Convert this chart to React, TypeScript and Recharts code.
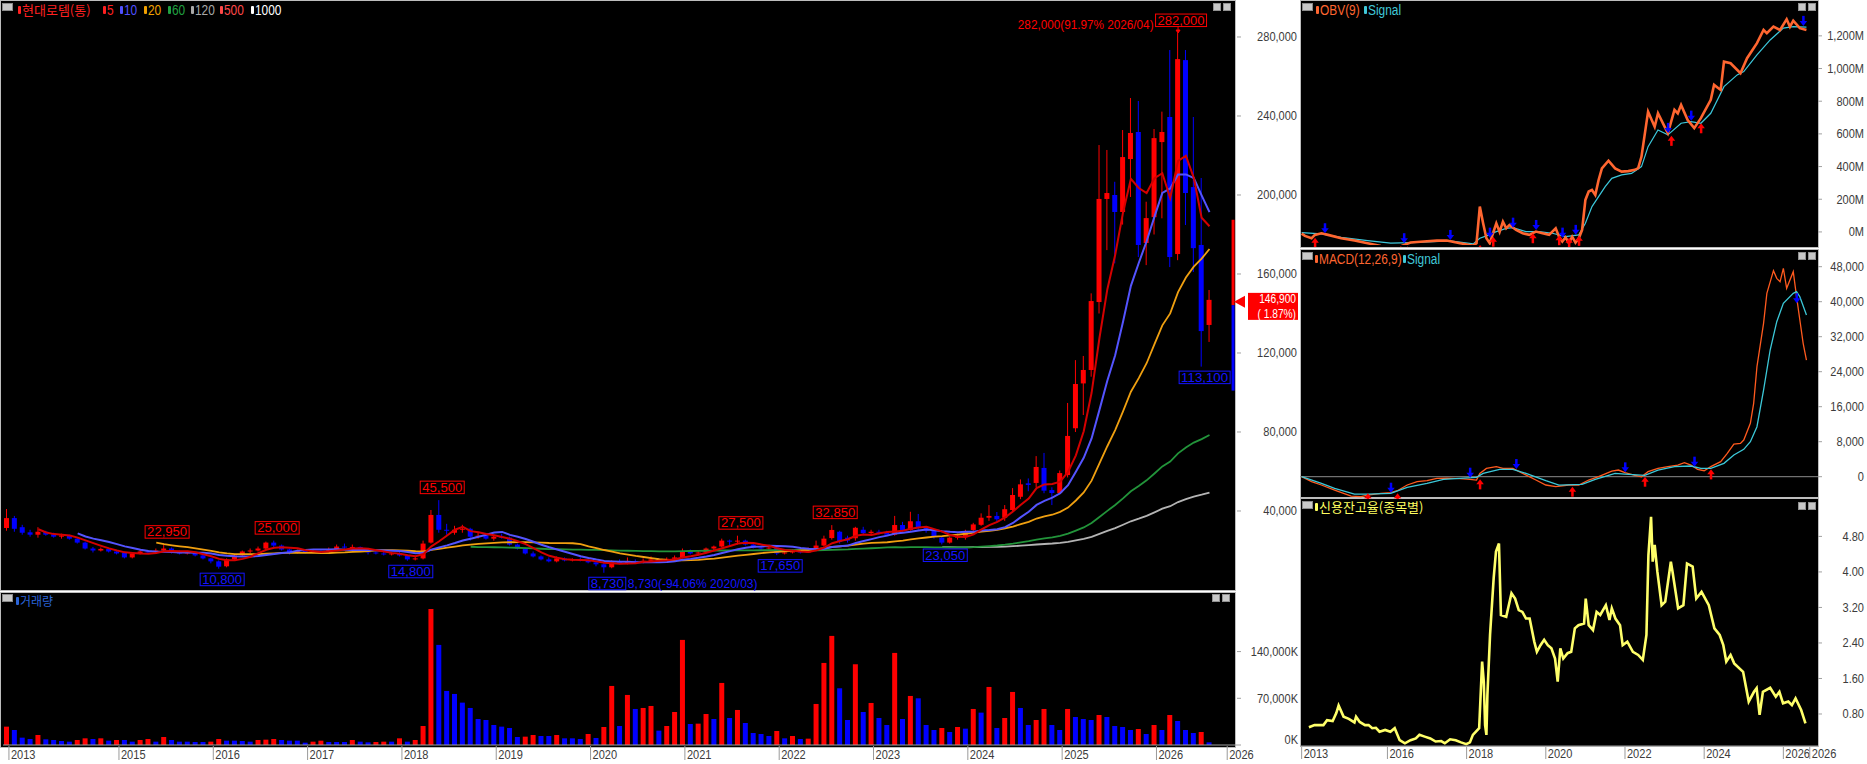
import React from "react";
import {
  ComposedChart,
  LineChart,
  Bar,
  Line,
  Cell,
  XAxis,
  YAxis,
  ReferenceDot,
  ReferenceLine,
} from "recharts";

const SANS = "'Liberation Sans',Arial,sans-serif";
const CJK = "'Noto Sans CJK KR','Noto Sans',sans-serif";
const SQUEEZE = 0.85;
const RED = "#ff0000";
const BLUE = "#0000ff";
const AXIS_TEXT = "#3c3c3c";

// monthly candles, Nov 2013 .. Aug 2026
const START_YEAR = 2013;
const START_MONTH = 11;
const PAD_MONTHS = 3;

const opens = [
  31400, 36400, 31800, 29200, 28000, 29500, 28200, 27000, 27500, 26000,
  24000, 21000, 20000, 20800, 19500, 19000, 16500, 18500, 19500, 19000,
  20000, 21000, 19500, 18500, 19000, 17500, 16000, 14500, 12000, 15500,
  17500, 19500, 20000, 21000, 24000, 22500, 20500, 19000, 19800, 19000,
  19500, 19200, 20500, 22000, 21500, 21800, 20000, 19000, 18500, 18000,
  18500, 17500, 15500, 16000, 24000, 38000, 30500, 29000, 30500, 31000,
  27000, 27500, 26000, 27000, 26500, 23000, 21000, 18500, 17000, 15500,
  14500, 16000, 15000, 15500, 15000, 14000, 13000, 11500, 14500, 13500,
  14500, 14000, 14800, 15500, 15000, 15800, 16500, 19500, 18500, 19000,
  21000, 22000, 25000, 24500, 25000, 23000, 21500, 21000, 21500, 18500,
  19000, 19500, 19000, 20500, 22500, 26300, 29500, 26500, 26200, 30500,
  28800, 29500, 29000, 28000, 32900, 30400, 34800, 31500, 30000, 26500,
  24000, 26500, 27000, 30400, 33000, 36600, 37500, 36600, 40500, 47200,
  54000, 54200, 61800, 50600, 49100, 58200, 81900, 104600, 111400, 145800,
  198000, 200000, 191400, 218200, 231900, 175700, 188800, 226800, 239500, 170100,
  268300, 204000, 174700, 134200,
];
const highs = [
  41000, 37500, 33000, 30500, 31800, 30000, 29000, 28500, 28000, 26500,
  24500, 21800, 21500, 21000, 20000, 19500, 19000, 20500, 20000, 21000,
  22950, 21500, 20000, 19800, 19200, 17800, 16300, 15000, 16000, 18000,
  20000, 21000, 22000, 24500, 25000, 23000, 21000, 20500, 20500, 20300,
  20000, 21500, 23000, 23500, 23000, 22000, 20500, 19500, 19500, 19000,
  19500, 17800, 17000, 25000, 40500, 45500, 33500, 32500, 33000, 31500,
  29000, 28500, 28000, 28500, 27000, 23500, 21500, 19500, 17500, 16500,
  17000, 16500, 16000, 16500, 15500, 14500, 13500, 15000, 15500, 16500,
  15500, 16000, 17000, 16000, 16500, 17500, 21000, 20500, 19800, 21500,
  22500, 26000, 25500, 27500, 25500, 23500, 22500, 22000, 22000, 20000,
  20500, 20500, 21500, 25000, 27500, 32850, 30000, 27500, 32000, 32000,
  30500, 30500, 30000, 37500, 34500, 39600, 38500, 32000, 30500, 27000,
  27000, 28500, 30500, 34000, 38800, 43000, 39500, 43000, 51600, 56000,
  56500, 67800, 69400, 52000, 60500, 94700, 116400, 118500, 150200, 225300,
  222800, 206700, 232900, 249100, 247600, 196600, 233400, 242200, 273400, 282000,
  273400, 239500, 208600, 151900,
];
const lows = [
  30000, 29500, 28000, 27000, 26500, 27500, 26500, 26000, 25500, 23500,
  20500, 19000, 19500, 19000, 18000, 16000, 16000, 18000, 18500, 18500,
  19500, 18500, 18000, 18000, 17000, 15500, 13500, 10800, 11500, 15000,
  17000, 18500, 19500, 20500, 21500, 20000, 18000, 18500, 18500, 18500,
  18500, 19000, 20000, 21000, 21000, 19500, 18000, 18000, 17500, 17500,
  17000, 14800, 15000, 15500, 23500, 29000, 28000, 28000, 29000, 25000,
  26000, 25500, 25000, 26000, 22500, 20500, 18000, 16500, 15000, 14000,
  14000, 14500, 14500, 14500, 13500, 12000, 8730, 11000, 13000, 13000,
  13500, 13500, 14500, 14500, 14500, 15500, 16000, 18000, 17500, 18500,
  20000, 21500, 22500, 23000, 22500, 21000, 20000, 20500, 17650, 18000,
  18500, 18500, 18800, 20000, 22000, 25500, 23500, 24000, 25000, 28000,
  28000, 28000, 27500, 27500, 29500, 30000, 30500, 29000, 26000, 23050,
  23500, 25500, 25500, 29000, 32500, 35000, 34500, 35000, 40000, 46000,
  50000, 52000, 49000, 43000, 48500, 57000, 80000, 88600, 108000, 140000,
  172100, 165400, 185000, 199000, 168600, 164500, 180000, 188200, 163500, 167000,
  184800, 161000, 113100, 125600,
];
const closes = [
  36400, 31000, 29000, 28000, 29500, 28000, 27000, 27600, 26000, 24000,
  21000, 20000, 20800, 19500, 18500, 16500, 18500, 19500, 19000, 20000,
  21000, 19500, 18500, 19000, 17500, 16000, 14500, 11800, 15500, 17500,
  19500, 20000, 21000, 24000, 22500, 20500, 19000, 19800, 19000, 19500,
  19200, 20500, 22000, 21500, 21800, 20000, 19000, 18500, 18000, 18500,
  17500, 15500, 16000, 23500, 38000, 30500, 30000, 30500, 31000, 27000,
  27500, 26000, 27000, 26500, 23000, 21000, 18500, 17000, 15500, 14500,
  16000, 15000, 15500, 15000, 14000, 13000, 11500, 14500, 13500, 14500,
  14000, 14800, 15500, 15000, 15800, 16500, 19500, 18500, 19000, 21000,
  22000, 25000, 24500, 25000, 23000, 21500, 21000, 21500, 18500, 19000,
  19500, 19000, 20500, 22500, 26000, 30400, 24500, 25000, 31500, 28800,
  29500, 29000, 28000, 32900, 30400, 34800, 31900, 30000, 27000, 24000,
  26500, 27500, 29500, 33200, 36600, 37500, 35800, 40900, 48100, 53500,
  53200, 62300, 50300, 49100, 59200, 78000, 104300, 111400, 146300, 198000,
  201000, 191400, 219200, 231400, 174700, 188300, 228800, 231900, 168600, 268800,
  201000, 173100, 131100, 146900,
];
// volume in thousand shares
const volumes = [
  27500, 22500, 11000, 9000, 15000, 8500, 7500, 6000, 5000, 7500,
  10000, 9000, 10000, 6500, 7500, 7500, 5000, 7500, 9000, 5000,
  12000, 7500, 5000, 5000, 4500, 4500, 5000, 9000, 6500, 6500,
  6000, 5000, 7500, 8000, 9000, 7500, 6500, 6500, 3500, 5000,
  6500, 4500, 4500, 4500, 7500, 5000, 4000, 4500, 5000, 5000,
  10000, 5000, 7500, 28500, 204000, 150000, 81000, 76500, 63500, 55500,
  39000, 37500, 30000, 27500, 25500, 12000, 12500, 15000, 13500, 13500,
  15000, 10000, 10000, 9000, 16500, 10500, 27000, 88500, 28500, 75000,
  54000, 55500, 58500, 21500, 28500, 49500, 157500, 31500, 32000, 46500,
  39000, 93000, 40500, 52500, 33000, 18000, 16500, 13500, 21000, 10000,
  13500, 9000, 9500, 61500, 123000, 163500, 85000, 37500, 121000, 49500,
  63000, 40500, 30000, 138000, 39000, 73500, 70000, 30000, 22500, 25500,
  19500, 27000, 24500, 54000, 48500, 87000, 25500, 40500, 79500, 55500,
  30000, 37500, 54000, 30000, 22500, 54000, 42000, 39000, 37500, 45000,
  42000, 28500, 27000, 22500, 24000, 16500, 30000, 22500, 45000, 36000,
  22500, 18000, 19500, 4000,
];

const prevDayClose = 144200;
const peakIdx = [20, 34, 55, 93, 105, 149];
const troughIdx = [27, 51, 76, 98, 119, 152];
const priceTicks = [40000, 80000, 120000, 160000, 200000, 240000, 280000];
const volumeTicks = [0, 70000, 140000];
const yearTickKeys = [
  "2013-11", "2015-01", "2016-01", "2017-01", "2018-01", "2019-01", "2020-01",
  "2021-01", "2022-01", "2023-01", "2024-01", "2025-01", "2026-01", "2026-10",
];

// right panels: [month index, value]
const obvLine = [
  [0, -10], [1, -24], [3, -39], [4, -18], [6, -8], [8, -18], [12, -39], [16, -53],
  [20, -69], [24, -86], [27, -92], [30, -88], [33, -65], [37, -59], [41, -53], [44, -53],
  [48, -69], [52, -84], [53, -69], [54, 155], [55, 53], [56, -39], [57, -69], [58, -8],
  [59, 53], [60, 0], [61, 63], [62, 22], [63, 43], [65, 12], [67, -8], [69, -18],
  [71, 2], [73, -8], [75, -18], [77, 22], [78, -29], [79, -59], [80, -33], [81, -69],
  [82, -29], [83, -65], [84, -39], [85, 12], [86, 196], [87, 247], [88, 257], [89, 226],
  [90, 318], [91, 389], [93, 436], [95, 389], [97, 369], [99, 372], [101, 380], [102, 390],
  [103, 461], [105, 736], [107, 644], [108, 726], [110, 644], [111, 604], [113, 747],
  [114, 726], [115, 777], [117, 685], [119, 635], [121, 696], [124, 808], [125, 900],
  [127, 869], [128, 1042], [130, 1032], [133, 971], [135, 1063], [138, 1155], [140, 1236],
  [141, 1216], [143, 1256], [145, 1236], [147, 1302], [148, 1256], [149, 1293],
  [151, 1247], [153, 1236],
];
const obvSignal = [
  [0, -4], [6, -12], [12, -33], [20, -53], [27, -69], [33, -65], [40, -59], [45, -55],
  [52, -73], [54, -39], [56, -24], [59, 2], [62, 22], [64, 26], [68, 2], [72, 2],
  [76, -8], [80, -29], [84, -18], [86, 53], [88, 155], [90, 216], [92, 277], [94, 328],
  [97, 349], [100, 358], [103, 400], [105, 522], [108, 624], [111, 594], [115, 665],
  [118, 675], [121, 665], [124, 726], [128, 889], [132, 961], [134, 981], [138, 1083],
  [142, 1175], [146, 1247], [149, 1256], [153, 1253],
];
const obvBuys = [[4, -35], [30, -86], [32, -88], [54, -80], [58, -29], [70, -8], [78, -20], [81, -35], [84, -24], [112, 588], [121, 665]];
const obvSells = [[7, -8], [31, -69], [45, -49], [57, -35], [64, 26], [71, 12], [79, -35], [83, -18], [111, 606], [118, 681], [152, 1261]];

const macdLine = [
  [0, 0], [3, -1140], [6, -1900], [10, -3050], [15, -4420], [18, -4570], [20, -4190],
  [24, -3810], [27, -3660], [29, -3200], [32, -1900], [35, -1140], [38, -914], [41, -381],
  [44, -305], [48, -457], [51, -610], [53, -762], [54, 762], [56, 1905], [59, 2286],
  [61, 1905], [64, 1905], [67, 762], [71, -762], [74, -1900], [77, -2286], [81, -1900],
  [84, -1900], [87, -762], [90, 0], [94, 1295], [96, 1524], [98, 914], [101, 305],
  [103, 0], [105, 1143], [108, 1905], [111, 2286], [114, 2667], [116, 3200], [118, 2667],
  [120, 1676], [122, 1372], [124, 2286], [127, 3429], [129, 5334], [131, 7468],
  [133, 7620], [134, 8382], [136, 12192], [137, 16764], [138, 25146], [140, 35052],
  [141, 41910], [143, 47092], [144, 45339], [145, 44577], [146, 47625], [147, 43053],
  [149, 46863], [150, 41148], [151, 35814], [152, 30480], [153, 26670],
];
const macdSignal = [
  [0, 0], [6, -1524], [10, -2667], [16, -3962], [20, -3962], [27, -3810], [32, -2438],
  [38, -1524], [43, -610], [49, -305], [53, -152], [55, 762], [60, 1676], [64, 1676],
  [68, 762], [74, -914], [78, -1905], [85, -1753], [89, -610], [95, 762], [98, 610],
  [104, 305], [108, 1524], [113, 2286], [118, 2438], [121, 1905], [124, 1905],
  [128, 3048], [131, 4953], [134, 6248], [136, 8001], [138, 11430], [140, 19812],
  [142, 28956], [144, 35433], [146, 39624], [149, 41910], [150, 42291], [151, 41148],
  [153, 36957],
];
const macdBuys = [[20, -3810], [29, -3810], [54, -610], [82, -2286], [104, 0], [124, 1676]];
const macdSells = [[27, -3658], [51, -229], [65, 1753], [98, 991], [119, 2286], [150, 39624]];

const creditRatio = [
  [2.2, 0.5], [3.9, 0.55], [6.6, 0.55], [7.7, 0.66], [9.4, 0.64], [10.5, 0.82], [11.2, 0.99],
  [12.7, 0.74], [14.3, 0.69], [16, 0.61], [16.5, 0.74], [17.6, 0.62], [19.2, 0.55],
  [20.3, 0.55], [21.4, 0.48], [22.5, 0.49], [23.6, 0.4], [25.3, 0.44], [26.9, 0.4],
  [28.2, 0.48], [29.7, 0.21], [31.3, 0.14], [33, 0.21], [34.6, 0.25], [35.7, 0.33],
  [37.3, 0.29], [39, 0.25], [40.6, 0.18], [42.3, 0.19], [43.4, 0.14], [45, 0.23],
  [46.7, 0.21], [48.3, 0.16], [49.9, 0.12], [51, 0.16], [51.9, 0.33], [53.8, 0.48],
  [54.7, 1.98], [55.2, 1.53], [55.6, 0.55], [56, 0.33], [56.3, 1.23], [57.1, 2.58],
  [58.2, 3.86], [58.9, 4.46], [59.8, 4.64], [60.4, 3.03], [62, 2.99], [63.6, 3.52],
  [64.7, 3.4], [65.8, 3.14], [66.9, 3.1], [68, 2.95], [69.1, 2.95], [70.5, 2.43],
  [71.3, 2.2], [72.4, 2.35], [73.5, 2.47], [74.6, 2.35], [75.7, 2.28], [76.8, 2.05],
  [77.6, 1.53], [78.4, 2.28], [79.3, 2.05], [80.6, 2.17], [81.7, 2.2], [82.8, 2.73],
  [83.9, 2.8], [85.6, 2.84], [86.1, 3.4], [87, 2.8], [88.3, 2.69], [89.4, 3.1],
  [90.5, 3.03], [92.2, 3.25], [93.3, 2.92], [94, 3.18], [95.1, 2.95], [96.5, 2.8],
  [97.3, 2.35], [98.7, 2.43], [100.4, 2.2], [102, 2.13], [103.4, 2.02], [104.5, 2.58],
  [105.1, 4.38], [105.9, 5.24], [106.4, 4.23], [107, 4.61], [107.8, 4.01], [109.1, 3.25],
  [110.2, 3.33], [111.9, 4.23], [112.4, 4.01], [114.1, 3.18], [115.7, 3.25], [116.8, 4.19],
  [118.5, 4.12], [119.6, 3.4], [121.2, 3.55], [123.4, 3.25], [125.1, 2.73], [126.7, 2.58],
  [127.8, 2.35], [128.7, 1.98], [130, 2.13], [131.1, 1.94], [133.8, 1.75], [135.5, 1.08],
  [137.1, 1.3], [137.9, 1.38], [138.8, 0.78], [139.8, 1.3], [142, 1.39], [143.7, 1.19],
  [144.8, 1.3], [145.9, 1.04], [147.5, 1.08], [148.6, 1.0], [149.7, 1.15], [151.4, 0.89],
  [152.7, 0.59],
];
const sideYearTicks = [0, 26, 50, 74, 98, 122, 146, 154];

// ---- derived tables ----
const months: string[] = [];
for (let i = 0; i < closes.length + PAD_MONTHS; i++) {
  const mm = START_MONTH - 1 + i;
  months.push(`${START_YEAR + Math.floor(mm / 12)}-${String((mm % 12) + 1).padStart(2, "0")}`);
}
const sma = (n: number) =>
  closes.map((_, i) =>
    i < n - 1 ? null : closes.slice(i - n + 1, i + 1).reduce((a, b) => a + b, 0) / n
  );
const ma5 = sma(5);
const ma10 = sma(10);
const ma20 = sma(20);
const ma60 = sma(60);
const ma120 = sma(120);

const rows = months.map((m, i) =>
  i < closes.length
    ? {
        m,
        range: [lows[i], highs[i]],
        open: opens[i],
        high: highs[i],
        low: lows[i],
        close: closes[i],
        vol: volumes[i],
        ma5: ma5[i],
        ma10: ma10[i],
        ma20: ma20[i],
        ma60: ma60[i],
        ma120: ma120[i],
      }
    : { m }
);

const toPts = (a: number[][]) => a.map(([t, v]) => ({ t, v }));
const lastClose = closes[closes.length - 1];
const lastKey = months[months.length - 1];
const maxIdx = highs.indexOf(Math.max(...highs));
const minIdx = lows.indexOf(Math.min(...lows));
const fmt = (v: number) => v.toLocaleString("en-US");
const note = (v: number, i: number) =>
  `${fmt(v)}(${(((v - lastClose) / lastClose) * 100).toFixed(2)}% ${months[i].replace("-", "/")})`;

// condensed svg text
const NText = ({ x, y, anchor = "start", fill = AXIS_TEXT, size = 13, children }: any) => (
  <text
    transform={`translate(${x} ${y}) scale(${SQUEEZE} 1)`}
    textAnchor={anchor}
    fill={fill}
    fontSize={size}
    fontFamily={SANS}
  >
    {children}
  </text>
);

// ---- shapes ----
function Candle(props: any) {
  const { x, y, width, height, payload } = props;
  if (!payload || payload.close == null || !isFinite(y)) return null;
  const { open, close, high, low } = payload;
  const span = high - low || 1;
  const py = (v: number) => y + ((high - v) / span) * height;
  const color = close >= open ? RED : BLUE;
  const cx = x + width / 2;
  const top = py(Math.max(open, close));
  const bot = py(Math.min(open, close));
  return (
    <g>
      <line x1={cx} x2={cx} y1={y} y2={y + height} stroke={color} strokeWidth={1} />
      <rect x={x} y={top} width={width} height={Math.max(1, bot - top)} fill={color} />
    </g>
  );
}

function Flag(props: any) {
  const { cx, cy, value, kind, extra } = props;
  const text = fmt(value);
  const w = text.length * 7 + 2;
  const color = kind === "high" ? RED : "#1414ff";
  const bx = cx + 3 - w / 2;
  const by = kind === "high" ? cy - 19 : cy + 4.5;
  return (
    <g fontFamily={SANS} fontSize={12}>
      {extra && kind === "high" && (
        <text x={bx - 2} y={cy - 4} textAnchor="end" fill={color} textLength={extra.length * 5.9} lengthAdjust="spacingAndGlyphs">
          {extra}
        </text>
      )}
      {extra && kind === "low" && (
        <text x={bx + w + 2} y={cy + 15.5} fill={color} textLength={extra.length * 5.9} lengthAdjust="spacingAndGlyphs">
          {extra}
        </text>
      )}
      <rect x={bx} y={by} width={w} height={12.5} fill="none" stroke={color} strokeWidth={1} />
      <text x={bx + 2} y={by + 10.8} fill={color} textLength={w - 4} lengthAdjust="spacingAndGlyphs">
        {text}
      </text>
      {extra && kind === "high" && (
        <g stroke={color} fill={color}>
          <line x1={cx} x2={cx} y1={by + 12.5} y2={cy - 2} />
          <polygon points={`${cx - 2},${cy - 3} ${cx + 2},${cy - 3} ${cx},${cy}`} />
        </g>
      )}
    </g>
  );
}

function NowTag({ cy }: any) {
  const pct = ((lastClose - prevDayClose) / prevDayClose) * 100;
  return (
    <g>
      <polygon points={`1234,${cy + 2} 1245,${cy - 4} 1245,${cy + 8}`} fill={RED} />
      <rect x={1248} y={cy - 7} width={50} height={27} fill={RED} />
      <NText x={1296} y={cy + 3} anchor="end" fill="#fff" size={12}>{fmt(lastClose)}</NText>
      <NText x={1296} y={cy + 18} anchor="end" fill="#fff" size={12}>{`( ${pct.toFixed(2)}%)`}</NText>
    </g>
  );
}

const SellArrow = ({ cx, cy }: any) =>
  isFinite(cx) ? (
    <g fill="#0000ff">
      <rect x={cx - 1} y={cy - 10} width={2.5} height={6} />
      <polygon points={`${cx - 3.5},${cy - 5} ${cx + 4},${cy - 5} ${cx + 0.25},${cy}`} />
    </g>
  ) : null;
const BuyArrow = ({ cx, cy }: any) =>
  isFinite(cx) ? (
    <g fill="#ff0000">
      <rect x={cx - 1} y={cy + 4} width={2.5} height={6} />
      <polygon points={`${cx - 3.5},${cy + 5} ${cx + 4},${cy + 5} ${cx + 0.25},${cy}`} />
    </g>
  ) : null;

const PriceTick = ({ y, payload }: any) => (
  <NText x={1297} y={y + 4.5} anchor="end">{fmt(payload.value)}</NText>
);
const VolTick = ({ y, payload }: any) => (
  <NText x={1298} y={y + (payload.value === 0 ? -1 : 4.5)} anchor="end">{`${fmt(payload.value)}K`}</NText>
);
const MonthYearTick = ({ x, payload }: any) => (
  <g>
    <line x1={x + 2} x2={x + 2} y1={156} y2={170} stroke="#9a9a9a" />
    <NText x={x + 4} y={168.5}>{String(payload.value).slice(0, 4)}</NText>
  </g>
);
const SideYearTick = ({ x, payload }: any) => (
  <g>
    <line x1={x} x2={x} y1={250} y2={262} stroke="#9a9a9a" />
    <NText x={x + 2} y={260.5}>{months[payload.value].slice(0, 4)}</NText>
  </g>
);
const makeSideTick = (f: (v: number) => string) => ({ y, payload }: any) => (
  <NText x={564} y={y + 4.5} anchor="end">{f(payload.value)}</NText>
);

// ---- chrome helpers ----
const Frame = ({ l, t, w, h }: any) => (
  <div
    style={{
      position: "absolute",
      left: l,
      top: t,
      width: w,
      height: h,
      background: "#000",
      border: "1px solid #bdbdbd",
      boxSizing: "border-box",
    }}
  />
);
const Icon = ({ l, t }: any) => (
  <div style={{ position: "absolute", left: l, top: t, width: 11, height: 8, background: "#c8c8c8", border: "1px solid #8a8a8a", boxSizing: "border-box" }} />
);
const WinBtns = ({ l, t }: any) => (
  <>
    <div style={{ position: "absolute", left: l, top: t, width: 8, height: 8, background: "#c8c8c8", border: "1px solid #909090", boxSizing: "border-box" }} />
    <div style={{ position: "absolute", left: l + 10, top: t, width: 8, height: 8, background: "#c8c8c8", border: "1px solid #909090", boxSizing: "border-box" }} />
  </>
);
const Tag = ({ l, t, color, text, cjk, size }: any) => (
  <>
    <div style={{ position: "absolute", left: l, top: t + 3, width: 3, height: 8, background: color, borderRadius: 1 }} />
    <div
      style={{
        position: "absolute",
        left: l + 4,
        top: t,
        color,
        fontSize: size || 14,
        lineHeight: "14px",
        fontFamily: cjk ? CJK : SANS,
        whiteSpace: "nowrap",
        transform: cjk ? undefined : `scaleX(${SQUEEZE})`,
        transformOrigin: "left center",
      }}
    >
      {text}
    </div>
  </>
);

function MainPanel() {
  return (
    <ComposedChart width={1300} height={592} data={rows} margin={{ top: 3, right: 0, bottom: 2, left: 3 }}>
      <XAxis dataKey="m" hide />
      <YAxis
        orientation="right"
        width={63}
        domain={[0, 297215]}
        ticks={priceTicks}
        interval={0}
        allowDataOverflow
        axisLine={false}
        tickSize={4}
        tickLine={{ stroke: "#a0a0a0" }}
        tick={(p: any) => <PriceTick {...p} />}
      />
      <Bar dataKey="range" barSize={5} isAnimationActive={false} shape={(p: any) => <Candle {...p} />} />
      <Line dataKey="ma120" stroke="#b4b4b4" strokeWidth={1.8} dot={false} isAnimationActive={false} />
      <Line dataKey="ma60" stroke="#22943a" strokeWidth={1.8} dot={false} isAnimationActive={false} />
      <Line dataKey="ma20" stroke="#f0a010" strokeWidth={1.8} dot={false} isAnimationActive={false} />
      <Line dataKey="ma10" stroke="#5454ff" strokeWidth={2} dot={false} isAnimationActive={false} />
      <Line dataKey="ma5" stroke="#d40000" strokeWidth={2} dot={false} isAnimationActive={false} />
      <ReferenceLine
        segment={[{ x: lastKey, y: prevDayClose }, { x: lastKey, y: Math.round(prevDayClose * 1.3) }]}
        stroke={RED}
        strokeWidth={3}
      />
      <ReferenceLine
        segment={[{ x: lastKey, y: Math.round(prevDayClose * 0.7) }, { x: lastKey, y: prevDayClose }]}
        stroke={BLUE}
        strokeWidth={3}
      />
      {peakIdx.map((i) => (
        <ReferenceDot
          key={`p${i}`}
          x={months[i]}
          y={highs[i]}
          ifOverflow="visible"
          shape={(p: any) => (
            <Flag {...p} value={highs[i]} kind="high" extra={i === maxIdx ? note(highs[i], i) : null} />
          )}
        />
      ))}
      {troughIdx.map((i) => (
        <ReferenceDot
          key={`t${i}`}
          x={months[i]}
          y={lows[i]}
          ifOverflow="visible"
          shape={(p: any) => (
            <Flag {...p} value={lows[i]} kind="low" extra={i === minIdx ? note(lows[i], i) : null} />
          )}
        />
      ))}
      <ReferenceDot x={lastKey} y={lastClose} ifOverflow="visible" shape={(p: any) => <NowTag {...p} />} />
    </ComposedChart>
  );
}

function VolumePanel() {
  return (
    <ComposedChart width={1300} height={174} data={rows} margin={{ top: 7, right: 0, bottom: 2, left: 3 }}>
      <XAxis
        dataKey="m"
        ticks={yearTickKeys}
        interval={0}
        height={17}
        tickLine={false}
        axisLine={{ stroke: "#a0a0a0" }}
        tick={(p: any) => <MonthYearTick {...p} />}
      />
      <YAxis
        orientation="right"
        width={63}
        domain={[0, 221800]}
        ticks={volumeTicks}
        interval={0}
        allowDataOverflow
        axisLine={false}
        tickSize={4}
        tickLine={{ stroke: "#a0a0a0" }}
        tick={(p: any) => <VolTick {...p} />}
      />
      <Bar dataKey="vol" barSize={5} isAnimationActive={false}>
        {rows.map((r: any, i) => (
          <Cell key={i} fill={i === 0 || (r.vol ?? 0) > (volumes[i - 1] ?? 0) ? RED : BLUE} />
        ))}
      </Bar>
    </ComposedChart>
  );
}

const sideX = (hide: boolean) => (
  <XAxis
    type="number"
    dataKey="t"
    domain={[-0.5, 156.5]}
    allowDataOverflow
    hide={hide}
    ticks={sideYearTicks}
    interval={0}
    height={16}
    tickLine={false}
    axisLine={{ stroke: "#a0a0a0" }}
    tick={(p: any) => <SideYearTick {...p} />}
  />
);

function ObvPanel() {
  return (
    <LineChart width={567} height={247} margin={{ top: 3, right: 0, bottom: 2, left: 0 }}>
      {sideX(true)}
      <YAxis
        orientation="right"
        width={49}
        domain={[-80, 1401]}
        ticks={[0, 200, 400, 600, 800, 1000, 1200]}
        interval={0}
        allowDataOverflow
        axisLine={false}
        tickSize={4}
        tickLine={{ stroke: "#a0a0a0" }}
        tick={makeSideTick((v) => `${fmt(v)}M`)}
      />
      <Line data={toPts(obvSignal)} dataKey="v" stroke="#3cc8dc" strokeWidth={1.2} dot={false} isAnimationActive={false} />
      <Line data={toPts(obvLine)} dataKey="v" stroke="#ff6630" strokeWidth={2.6} dot={false} isAnimationActive={false} />
      {obvBuys.map(([t, v], k) => (
        <ReferenceDot key={`ob${k}`} x={t} y={v} ifOverflow="visible" shape={(p: any) => <BuyArrow {...p} />} />
      ))}
      {obvSells.map(([t, v], k) => (
        <ReferenceDot key={`os${k}`} x={t} y={v} ifOverflow="visible" shape={(p: any) => <SellArrow {...p} />} />
      ))}
    </LineChart>
  );
}

function MacdPanel() {
  return (
    <LineChart width={567} height={252} margin={{ top: 5, right: 0, bottom: 1, left: 0 }}>
      {sideX(true)}
      <YAxis
        orientation="right"
        width={49}
        domain={[-4870, 51360]}
        ticks={[0, 8000, 16000, 24000, 32000, 40000, 48000]}
        interval={0}
        allowDataOverflow
        axisLine={false}
        tickSize={4}
        tickLine={{ stroke: "#a0a0a0" }}
        tick={makeSideTick((v) => fmt(v))}
      />
      <ReferenceLine y={0} stroke="#8c8c8c" strokeWidth={1} />
      <Line data={toPts(macdLine)} dataKey="v" stroke="#ff5a1e" strokeWidth={1.3} dot={false} isAnimationActive={false} />
      <Line data={toPts(macdSignal)} dataKey="v" stroke="#3cc8d8" strokeWidth={1.3} dot={false} isAnimationActive={false} />
      {macdBuys.map(([t, v], k) => (
        <ReferenceDot key={`mb${k}`} x={t} y={v} ifOverflow="visible" shape={(p: any) => <BuyArrow {...p} />} />
      ))}
      {macdSells.map(([t, v], k) => (
        <ReferenceDot key={`ms${k}`} x={t} y={v} ifOverflow="visible" shape={(p: any) => <SellArrow {...p} />} />
      ))}
    </LineChart>
  );
}

function CreditPanel() {
  return (
    <LineChart width={567} height={267} margin={{ top: 3, right: 0, bottom: 2, left: 0 }}>
      {sideX(false)}
      <YAxis
        orientation="right"
        width={49}
        domain={[0.079, 5.62]}
        ticks={[0.8, 1.6, 2.4, 3.2, 4.0, 4.8]}
        interval={0}
        allowDataOverflow
        axisLine={false}
        tickSize={4}
        tickLine={{ stroke: "#a0a0a0" }}
        tick={makeSideTick((v) => v.toFixed(2))}
      />
      <Line data={toPts(creditRatio)} dataKey="v" stroke="#ffff6a" strokeWidth={2.6} dot={false} isAnimationActive={false} />
    </LineChart>
  );
}

export default function App() {
  return (
    <div style={{ position: "absolute", left: 0, top: 0, width: 1867, height: 764, background: "#fff", overflow: "hidden" }}>
      <Frame l={0} t={0} w={1236} h={591} />
      <Frame l={0} t={592} w={1236} h={156} />
      <Frame l={1300} t={0} w={519} h={248} />
      <Frame l={1300} t={249} w={519} h={249} />
      <Frame l={1300} t={498} w={519} h={249} />

      <div style={{ position: "absolute", left: 0, top: 0 }}>
        <MainPanel />
      </div>
      <div style={{ position: "absolute", left: 0, top: 590 }}>
        <VolumePanel />
      </div>
      <div style={{ position: "absolute", left: 1300, top: 0 }}>
        <ObvPanel />
      </div>
      <div style={{ position: "absolute", left: 1300, top: 247 }}>
        <MacdPanel />
      </div>
      <div style={{ position: "absolute", left: 1300, top: 497 }}>
        <CreditPanel />
      </div>

      {/* main legend */}
      <Icon l={2} t={3} />
      <Tag l={18} t={3} color="#ff2020" text="현대로템(통)" cjk size={13} />
      <Tag l={103} t={3} color="#ff2020" text="5" />
      <Tag l={120} t={3} color="#5050ff" text="10" />
      <Tag l={144} t={3} color="#f0a000" text="20" />
      <Tag l={168} t={3} color="#20a040" text="60" />
      <Tag l={191} t={3} color="#a8a8a8" text="120" />
      <Tag l={220} t={3} color="#ff4848" text="500" />
      <Tag l={251} t={3} color="#ffffff" text="1000" />
      <WinBtns l={1213} t={3} />

      <Icon l={2} t={594} />
      <Tag l={16} t={594} color="#2a64d8" text="거래량" cjk size={12} />
      <WinBtns l={1212} t={594} />

      <Icon l={1302} t={3} />
      <Tag l={1316} t={3} color="#ff6630" text="OBV(9)" />
      <Tag l={1364} t={3} color="#40c8d8" text="Signal" />
      <WinBtns l={1798} t={3} />

      <Icon l={1302} t={252} />
      <Tag l={1315} t={252} color="#ff6630" text="MACD(12,26,9)" />
      <Tag l={1403} t={252} color="#40c8d8" text="Signal" />
      <WinBtns l={1798} t={252} />

      <Icon l={1302} t={501} />
      <Tag l={1315} t={500} color="#ffff60" text="신용잔고율(종목별)" cjk size={13} />
      <WinBtns l={1798} t={502} />
    </div>
  );
}
